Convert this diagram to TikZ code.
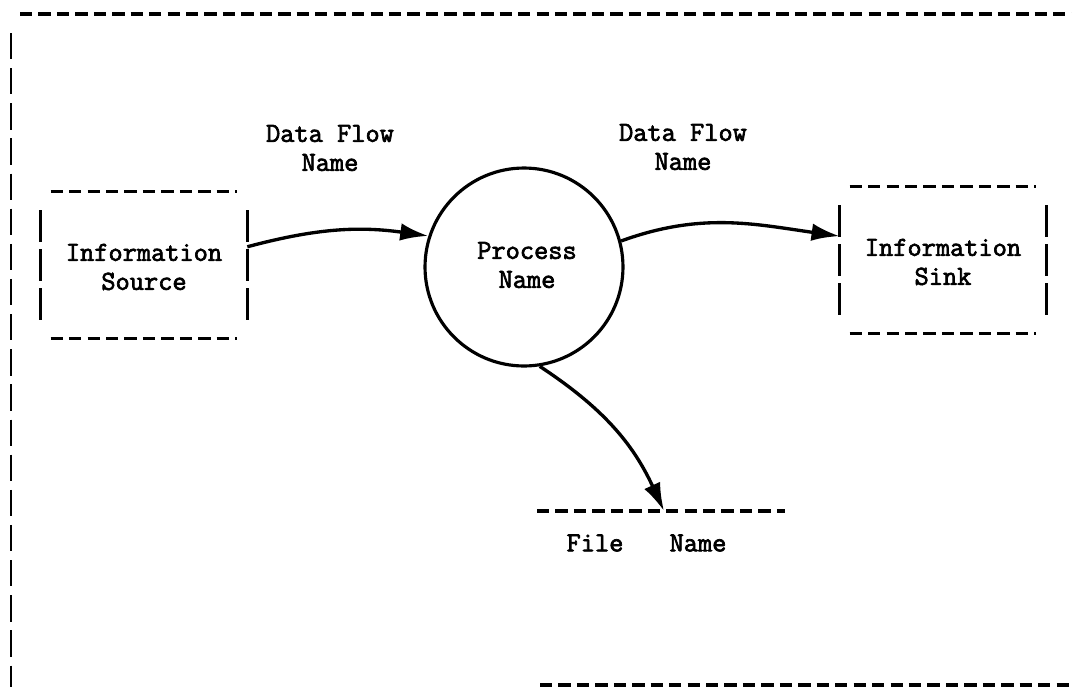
\documentclass[tikz,border=0pt]{standalone}
\usepackage{fontspec}
\usepackage{tikz}
\usetikzlibrary{calc, shapes, arrows, arrows.meta}
\newfontfamily\twfont{Latin Modern Mono}[FakeBold=2.5]

\begin{document}
\begin{tikzpicture}[x=0.02cm,y=-0.02cm]
\tikzstyle{label}=[font=\fontsize{15.7}{16.5}\selectfont\twfont,align=center,inner sep=0pt]
\tikzstyle{store}=[minimum width=4.12cm,minimum height=2.94cm,inner sep=0pt]
\tikzstyle{dashline}=[line width=1.8pt,dash pattern=on 7pt off 3.5pt]
\tikzstyle{sideline}=[line width=1.6pt,dash pattern=on 18pt off 4.2pt]
\tikzstyle{frameline}=[line width=1.6pt,dash pattern=on 15pt off 5pt]
\tikzstyle{flow}=[line width=1.9pt,-{Latex[length=16pt,width=10pt]}]
\useasboundingbox (0,0) rectangle (1072,687);
\draw[dashline] (20,14) -- (1072,14);
\draw[frameline] (11,33) -- (11,687);
\draw[dashline] (540,685) -- (1072,685);
\node[store] (src) at (144,265) {};
\node[label] at (144,267) {Information\\Source};
\draw[dashline] ([xshift=0.2cm]src.north west) -- ([xshift=-0.2cm]src.north east);
\draw[dashline] ([xshift=0.2cm]src.south west) -- ([xshift=-0.2cm]src.south east);
\draw[sideline] ([yshift=-0.38cm]src.north west) -- ([yshift=0.38cm]src.south west);
\draw[sideline] ([yshift=-0.38cm]src.north east) -- ([yshift=0.38cm]src.south east);
\node[store] (sink) at (943,260) {};
\node[label] at (943,262) {Information\\Sink};
\draw[dashline] ([xshift=0.2cm]sink.north west) -- ([xshift=-0.2cm]sink.north east);
\draw[dashline] ([xshift=0.2cm]sink.south west) -- ([xshift=-0.2cm]sink.south east);
\draw[sideline] ([yshift=-0.38cm]sink.north west) -- ([yshift=0.38cm]sink.south west);
\draw[sideline] ([yshift=-0.38cm]sink.north east) -- ([yshift=0.38cm]sink.south east);
\node[circle,draw,line width=1.8pt,minimum size=3.96cm] (proc) at (524,267) {};
\node[label] at (527,265) {Process\\Name};
\node[label] (df1) at (330,148) {Data Flow\\Name};
\node[label] (df2) at (683,147) {Data Flow\\Name};
\coordinate (fileL) at (537,511);
\coordinate (fileR) at (785,511);
\coordinate (fileIn) at (664,511);
\draw[dashline] (fileL) -- (fileR);
\node[label] (fileA) at (595,543) {File};
\node[label] (fileB) at (698,543) {Name};
\draw[flow] (src.10) to[out=15,in=172] (proc.162);
\draw[flow] (proc.15) to[out=20,in=172] (sink.167);
\draw[flow] (proc.-81) to[bend left=16] (fileIn);
\end{tikzpicture}
\end{document}
